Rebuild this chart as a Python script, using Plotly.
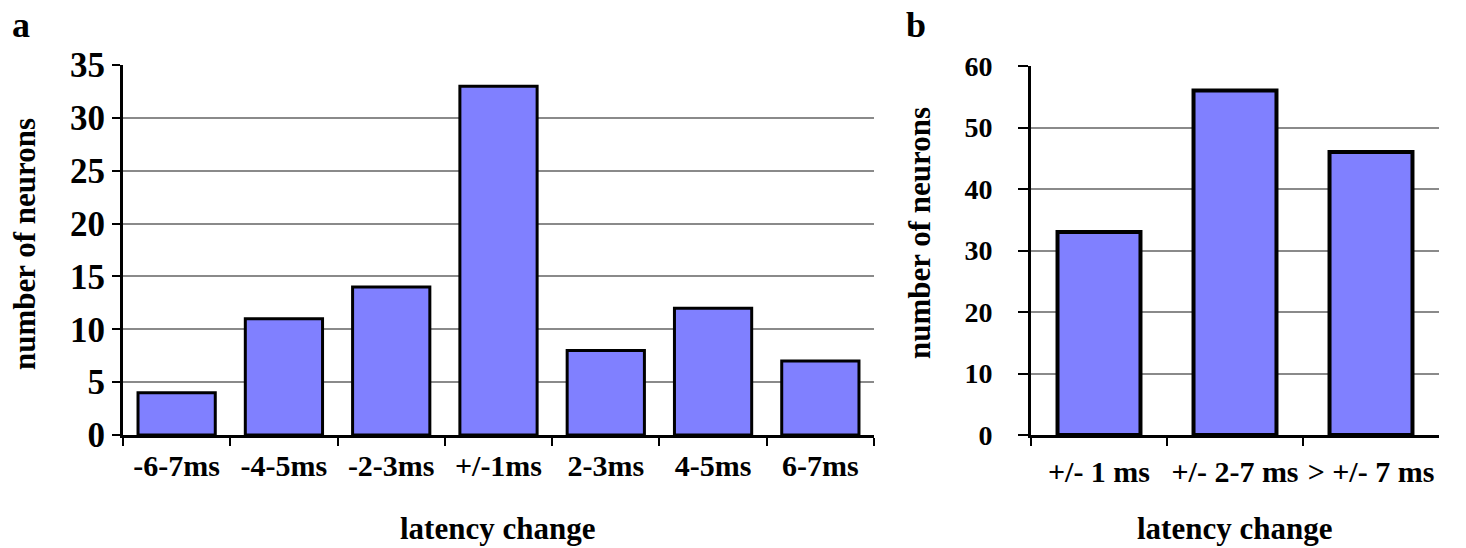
import plotly.graph_objects as go

# Panel a
cats_a = ["-6-7ms", "-4-5ms", "-2-3ms", "+/-1ms", "2-3ms", "4-5ms", "6-7ms"]
vals_a = [4, 11, 14, 33, 8, 12, 7]
yticks_a = [0, 5, 10, 15, 20, 25, 30, 35]

# Panel b
cats_b = ["+/- 1 ms", "+/- 2-7 ms", "> +/- 7 ms"]
vals_b = [33, 56, 46]
yticks_b = [0, 10, 20, 30, 40, 50, 60]

W, H = 1466, 548
FONT = "Liberation Serif"
BAR = "#8080FF"

def px(x):
    return x / W

def py(y):
    return 1 - y / H

fig = go.Figure()
fig.add_trace(go.Bar(x=cats_a, y=vals_a, xaxis="x", yaxis="y", width=0.72,
                     marker=dict(color=BAR, line=dict(color="black", width=3)),
                     showlegend=False))
fig.add_trace(go.Bar(x=cats_b, y=vals_b, xaxis="x2", yaxis="y2", width=0.61,
                     marker=dict(color=BAR, line=dict(color="black", width=4)),
                     showlegend=False))

common_x = dict(showline=True, linecolor="black", linewidth=3, ticks="outside",
                tickson="boundaries", ticklen=8, tickwidth=2, tickcolor="black",
                showgrid=False, fixedrange=True, automargin=False, tickangle=0)
common_y = dict(showline=True, linecolor="black", linewidth=3, ticks="outside",
                tickwidth=2, tickcolor="black", showgrid=True,
                gridcolor="#8a8a8a", gridwidth=2, zeroline=False, fixedrange=True,
                automargin=False)

fig.update_layout(
    width=W, height=H, margin=dict(l=0, r=0, t=0, b=0, autoexpand=False),
    paper_bgcolor="white", plot_bgcolor="white",
    font=dict(family=FONT, color="black"),
    xaxis=dict(domain=[px(123), px(874)], anchor="y",
               tickfont=dict(family=FONT, size=30, color="black", weight="bold"),
               ticklabelstandoff=2, **common_x),
    yaxis=dict(domain=[py(435), py(65)], anchor="x", range=[0, 35], tickvals=yticks_a,
               ticklen=8,
               tickfont=dict(family=FONT, size=35, color="black", weight="bold"),
               **common_y),
    xaxis2=dict(domain=[px(1031), px(1439)], anchor="y2",
                tickfont=dict(family=FONT, size=30, color="black", weight="bold"),
                ticklabelstandoff=8, **common_x),
    yaxis2=dict(domain=[py(435), py(66)], anchor="x2", range=[0, 60], tickvals=yticks_b,
                ticklen=10, ticklabelstandoff=20,
                tickfont=dict(family=FONT, size=28, color="black", weight="bold"),
                **common_y),
)

ann_font = dict(family=FONT, size=31, color="black", weight="bold")
annotations = [
    dict(text="latency change", x=px(497), y=py(528), showarrow=False, font=ann_font),
    dict(text="latency change", x=px(1234), y=py(528), showarrow=False, font=ann_font),
    dict(text="number of neurons", x=px(24), y=py(244), textangle=-90, showarrow=False, font=ann_font),
    dict(text="number of neurons", x=px(919), y=py(233), textangle=-90, showarrow=False, font=ann_font),
    dict(text="a", x=px(21), y=py(25), showarrow=False,
         font=dict(family=FONT, size=36, color="black", weight="bold")),
    dict(text="b", x=px(916), y=py(25), showarrow=False,
         font=dict(family=FONT, size=36, color="black", weight="bold")),
]
for a in annotations:
    a.update(xref="paper", yref="paper", xanchor="center", yanchor="middle")
fig.update_layout(annotations=annotations)

fig.write_html("out.html", config={"displayModeBar": False},
               post_script="document.body.style.margin='0';")
